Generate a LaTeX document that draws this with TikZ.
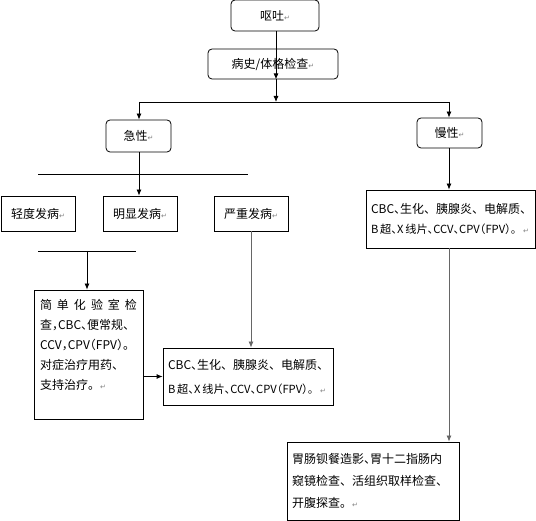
\documentclass[tikz,border=0pt]{standalone}
\usepackage{fontspec}
\setmainfont{Noto Sans CJK SC}
\newfontfamily\serre[RawFeature=+halt]{Noto Sans CJK SC}
\newfontfamily\marque{DejaVu Sans}
\usetikzlibrary{arrows.meta}

\newcommand{\retour}{{\marque\color{gray}\fontsize{7}{7}\selectfont ↵}}
\newcommand{\examens}{\mbox{{\serre CBC、}生化、胰腺炎、电解质、}\\
   \mbox{\fontsize{11.2}{11.2}\selectfont{\serre B\,超、X\,线片、CCV、CPV（FPV）}。\hspace{1pt}\retour}}

\tikzstyle{trait}=[line width=0.8pt]
\tikzstyle{fleche}=[-{Latex[length=6pt,width=5pt]},line width=0.8pt]
\tikzstyle{bulle}=[draw,line width=0.8pt,rounded corners=4pt,inner sep=2pt,font=\fontsize{12}{20}\selectfont]
\tikzstyle{cadre}=[draw,line width=0.8pt,inner xsep=5pt,inner ysep=2pt,align=left,font=\fontsize{12}{20}\selectfont]

\begin{document}
\begin{tikzpicture}[x=1pt,y=-1pt]
\useasboundingbox (0,0) rectangle (536,521);
% premier niveau
\node[bulle,minimum width=88pt,minimum height=31pt] (vomit) at (275,15.5) {呕吐\retour};
\node[bulle,minimum width=130pt,minimum height=30pt] (history) at (273,64) {病史/体格检查\retour};
\node[bulle,minimum width=65pt,minimum height=32pt] (acute) at (138.5,136) {急性\retour};
\node[bulle,minimum width=65pt,minimum height=30pt] (chronic) at (449.5,133) {慢性\retour};
% aigu
\foreach \nom/\x/\txt in {mild/38/轻度发病,marked/140/明显发病,severe/251/严重发病}
\node[cadre,minimum width=74pt,minimum height=35pt] (\nom) at (\x,213.5) {\txt\retour};
\node[cadre,inner xsep=6pt,text width=97pt,minimum height=129pt] (simple) at (88.5,354.5)
  {\makebox[97pt][s]{简\hfill 单\hfill 化\hfill 验\hfill 室\hfill 检}\\
   {\serre 查，CBC、}便常规、\\
   {\serre CCV，CPV（FPV）。}\\
   对症治疗用药、\\
   支持治疗。\retour\\ ~};
\node[cadre,text width=160pt,minimum height=57pt,font=\fontsize{12}{24}\selectfont] (labA) at (248,376.5) {\examens};
% chronique
\node[cadre,text width=159pt,minimum height=58pt] (labC) at (450.5,219) {\examens};
\node[cadre,text width=162pt,minimum height=78pt,font=\fontsize{12}{22}\selectfont] (imaging) at (373,481)
  {{\serre 胃肠钡餐造影、}胃十二指肠内\\
   窥镜检查、活组织取样检查、\\
   开腹探查。\retour};
% liaisons
\coordinate (split) at (276,102);
\coordinate (splitL) at (139,102);
\coordinate (splitR) at (449,102);
\coordinate (barAL) at (38,174);
\coordinate (barAR) at (248,174);
\coordinate (barBL) at (38,251);
\coordinate (barBR) at (136,251);
\coordinate (barBm) at (87,251);
\draw [fleche] (vomit.south -| split) -- (history.south -| split);
\draw [fleche] (history.south -| split) -- (split);
\draw [trait] (splitL) -- (splitR);
\draw [fleche] (splitL) -- (acute.north -| splitL);
\draw [fleche] (splitR) -- (chronic.north -| splitR);
\draw [trait] (barAL) -- (barAR);
\draw [fleche] (acute.south -| splitL) -- (marked.north -| splitL);
\draw [trait] (barBL) -- (barBR);
\draw [fleche] (barBm) -- (simple.north -| barBm);
\draw [fleche,black!60] (severe.south) -- (severe.south |- labA.north);
\draw [fleche] (simple.east |- labA.west) -- (labA.west);
\draw [fleche] (chronic.south -| splitR) -- (labC.north -| splitR);
\draw [fleche,black!60] (labC.south -| splitR) -- (imaging.north -| splitR);
\end{tikzpicture}
\end{document}
